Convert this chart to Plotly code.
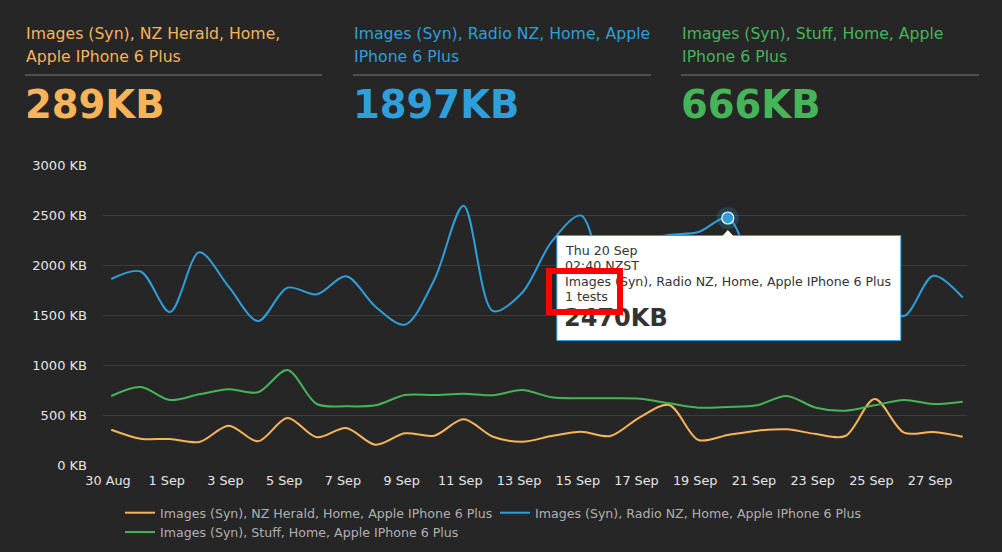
import plotly.graph_objects as go
import pandas as pd

# ---------------- data ----------------
dates = pd.date_range("2018-08-30 02:40", periods=30, freq="D")
series_names = [
    "Images (Syn), NZ Herald, Home, Apple IPhone 6 Plus",
    "Images (Syn), Radio NZ, Home, Apple IPhone 6 Plus",
    "Images (Syn), Stuff, Home, Apple IPhone 6 Plus",
]
nz_herald = [353, 263, 260, 230, 393, 237, 470, 277, 370, 203, 317, 293, 457, 283, 233,
             290, 333, 290, 477, 600, 250, 300, 343, 357, 310, 290, 660, 323, 330, 283]
radio_nz = [1860, 1935, 1530, 2127, 1783, 1440, 1773, 1707, 1887, 1583, 1403, 1850, 2593, 1540, 1725,
            2233, 2495, 1750, 2230, 2300, 2330, 2470, 1900, 1700, 1800, 1600, 1650, 1490, 1893, 1675]
stuff = [690, 780, 650, 707, 757, 727, 950, 610, 587, 597, 700, 700, 713, 697, 750,
         677, 667, 667, 663, 617, 573, 580, 597, 690, 573, 543, 597, 650, 610, 633]
summary_values = ["289KB", "1897KB", "666KB"]
header_lines = [
    ["Images (Syn), NZ Herald, Home,", "Apple IPhone 6 Plus"],
    ["Images (Syn), Radio NZ, Home, Apple", "IPhone 6 Plus"],
    ["Images (Syn), Stuff, Home, Apple", "IPhone 6 Plus"],
]
tooltip_index = 21
tooltip_lines = ["Thu 20 Sep", "02:40 NZST", series_names[1], "1 tests"]
tooltip_value = "2470KB"

# ---------------- style ----------------
colors = ["#f8b45a", "#2f9fdb", "#46b55a"]
BG = "#262626"
FONT = "DejaVu Sans"
W, H = 1002, 552
ML, MR, MT, MB = 103, 35, 165, 87
PW, PH = W - ML - MR, H - MT - MB


def px(x):
    return (x - ML) / PW


def py(y):
    return (H - MB - y) / PH


fig = go.Figure()
for name, vals, col in zip(series_names, [nz_herald, radio_nz, stuff], colors):
    fig.add_trace(go.Scatter(
        x=dates, y=vals, name=name, mode="lines",
        line=dict(color=col, width=2, shape="spline", smoothing=0.9),
        hoverinfo="skip",
    ))

# hovered point (halo + marker)
tx, ty = dates[tooltip_index], radio_nz[tooltip_index]
fig.add_trace(go.Scatter(x=[tx], y=[ty], mode="markers", showlegend=False, hoverinfo="skip",
                         marker=dict(size=22, color="rgba(47,159,219,0.22)", line=dict(width=0))))
fig.add_trace(go.Scatter(x=[tx], y=[ty], mode="markers", showlegend=False, hoverinfo="skip",
                         marker=dict(size=12, color=colors[1], line=dict(color="white", width=1.2))))

shapes = []
annotations = []

# header blocks
col_lefts = [25, 353, 681]
col_rights = [322, 651, 979]
line_centers = [33, 57]
for i in range(3):
    for txt, yc in zip(header_lines[i], line_centers):
        annotations.append(dict(
            xref="paper", yref="paper", x=px(col_lefts[i] - 1), y=py(yc), xanchor="left", yanchor="middle",
            text=txt, showarrow=False, align="left",
            font=dict(family=FONT, size=15.7, color=colors[i]),
        ))
    annotations.append(dict(
        xref="paper", yref="paper", x=px(col_lefts[i] - 2), y=py(104), xanchor="left", yanchor="middle",
        text="<b>%s</b>" % summary_values[i], showarrow=False,
        font=dict(family=FONT, size=38.5, color=colors[i]),
    ))
    shapes.append(dict(type="line", xref="paper", yref="paper",
                       x0=px(col_lefts[i]), x1=px(col_rights[i]), y0=py(75), y1=py(75),
                       line=dict(color="#7a7a7a", width=1)))

# tooltip box anchored at the hovered point (pixel offsets)
shapes.append(dict(type="rect", xref="x", yref="y", xanchor=tx, yanchor=ty,
                   xsizemode="pixel", ysizemode="pixel",
                   x0=-171, x1=173, y0=-17.5, y1=-122.5,
                   fillcolor="white", line=dict(color=colors[1], width=1), layer="above"))
shapes.append(dict(type="path", xref="x", yref="y", xanchor=tx, yanchor=ty,
                   xsizemode="pixel", ysizemode="pixel",
                   path="M -5.5,-18 L 0,-12 L 5.5,-18 Z",
                   fillcolor="white", line=dict(color="white", width=0), layer="above"))

line_shifts = [-32, -47, -63, -78]
for txt, sh in zip(tooltip_lines, line_shifts):
    annotations.append(dict(xref="x", yref="y", x=tx, y=ty, xshift=-165, yshift=sh,
                            xanchor="left", yanchor="middle", showarrow=False, text=txt,
                            font=dict(family=FONT, size=12.6, color="#333333")))
annotations.append(dict(xref="x", yref="y", x=tx, y=ty, xshift=-166, yshift=-100,
                        xanchor="left", yanchor="middle", showarrow=False,
                        text="<b>%s</b>" % tooltip_value,
                        font=dict(family=FONT, size=24, color="#333333")))
# red highlight frame
annotations.append(dict(xref="x", yref="y", x=tx, y=ty, xshift=-181.6, yshift=-49.7,
                        xanchor="left", yanchor="top", showarrow=False, text=" ",
                        width=65, height=35, borderpad=0, borderwidth=6,
                        bordercolor="#ff0000", bgcolor="rgba(0,0,0,0)",
                        font=dict(size=1)))

fig.update_layout(
    width=W, height=H, margin=dict(l=ML, r=MR, t=MT, b=MB, autoexpand=False),
    paper_bgcolor=BG, plot_bgcolor=BG,
    font=dict(family=FONT, color="#e6e6e6"),
    shapes=shapes, annotations=annotations,
    showlegend=True,
    legend=dict(orientation="h", x=px(120), xanchor="left", y=py(498), yanchor="top",
                entrywidth=330, entrywidthmode="pixels", tracegroupgap=0,
                font=dict(family=FONT, size=12.6, color="#b0b0b0"), bgcolor="rgba(0,0,0,0)"),
    xaxis=dict(type="date", range=["2018-08-29 19:55", "2018-09-28 06:10"],
               tick0="2018-08-30", dtick=2 * 86400000, tickformat="%-d %b",
               showgrid=False, zeroline=False, showline=False, ticks="",
               ticklabelstandoff=6,
               tickfont=dict(family=FONT, size=12.8, color="#e6e6e6")),
    yaxis=dict(range=[0, 3000], dtick=500, ticksuffix=" KB", showgrid=True,
               gridcolor="#3c3c3c", gridwidth=1, zeroline=False, showline=False,
               ticklabelstandoff=15,
               tickfont=dict(family=FONT, size=13, color="#e6e6e6")),
)

fig.write_html("out.html", config={"displayModeBar": False},
               post_script="document.body.style.margin='0';document.body.style.background='#262626';")
